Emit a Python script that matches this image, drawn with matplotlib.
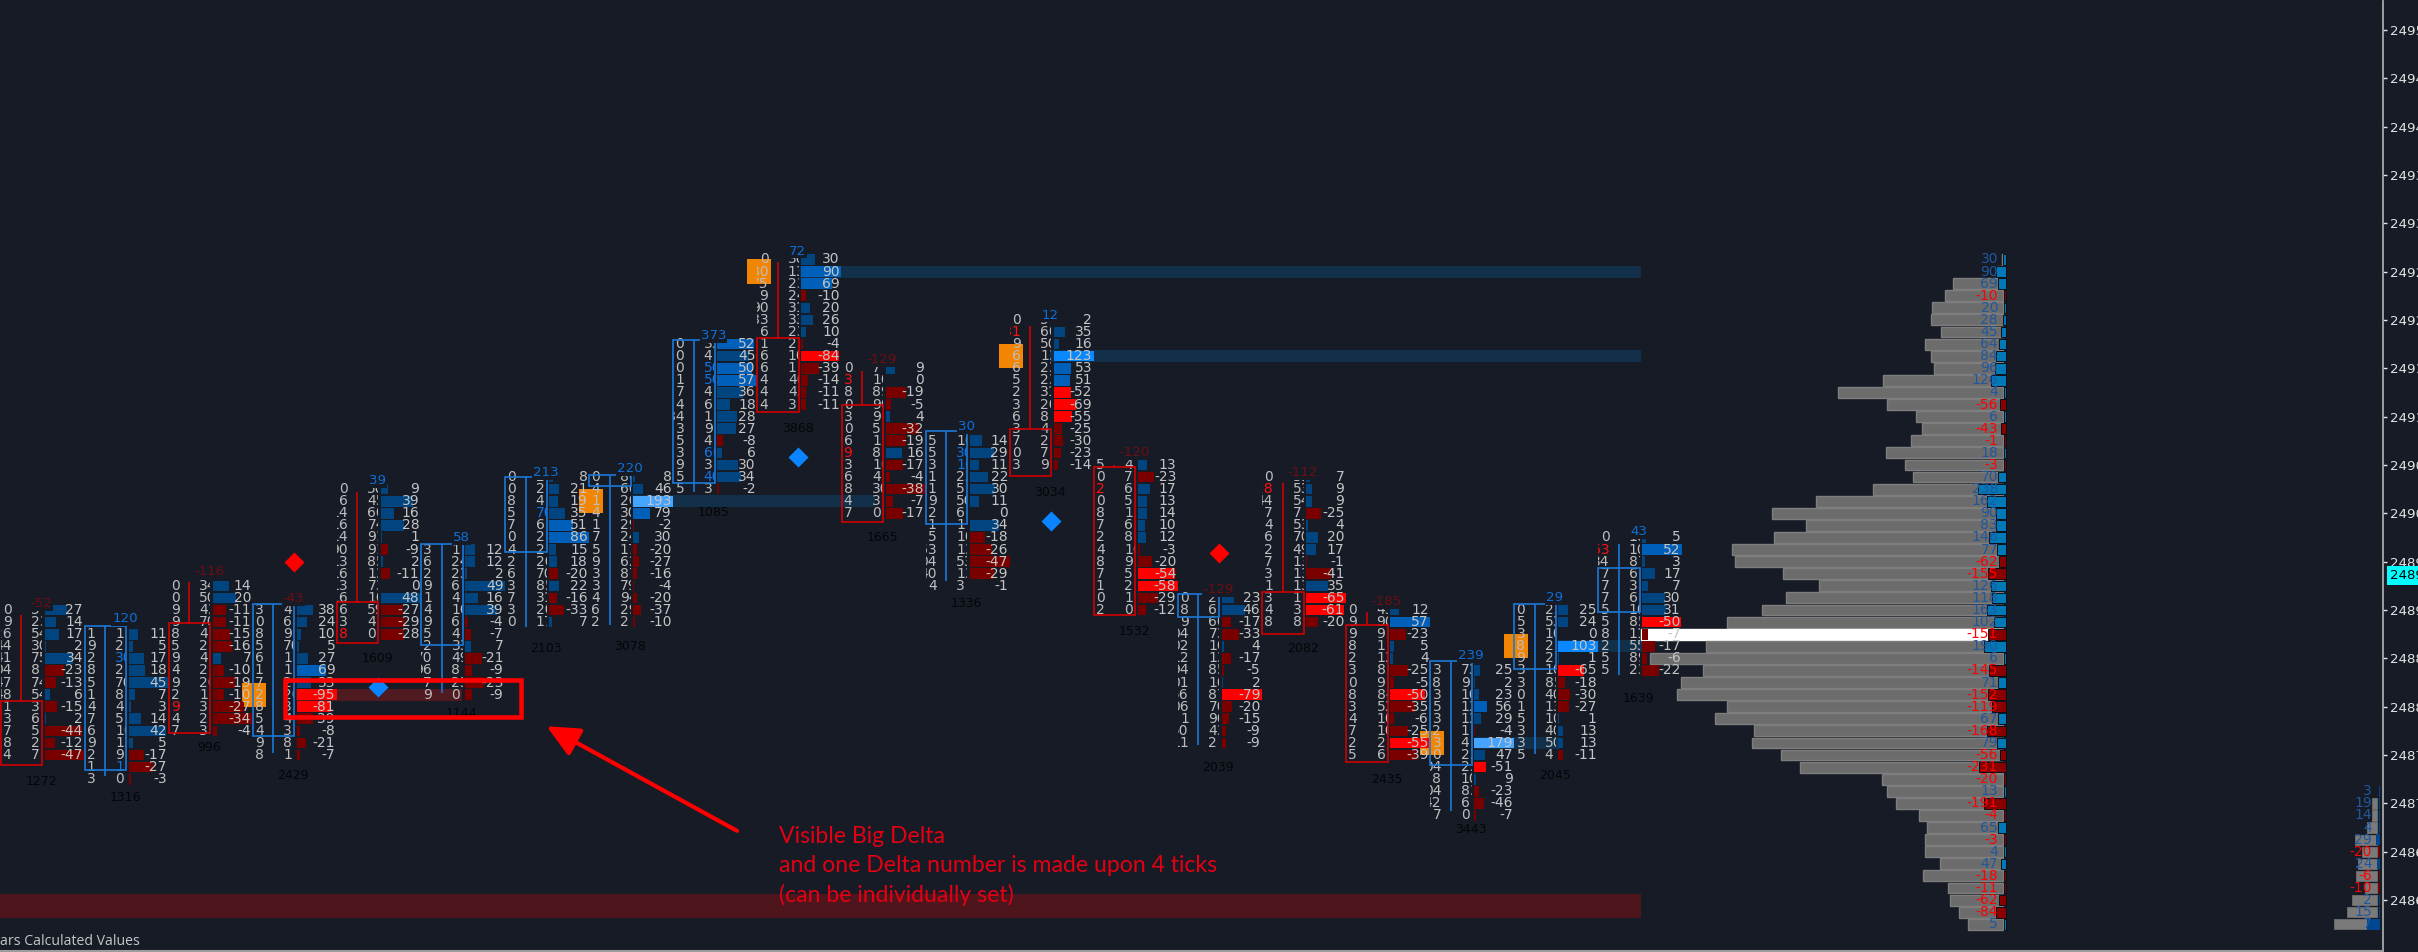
import matplotlib
matplotlib.use("Agg")
import matplotlib.pyplot as plt
from matplotlib.patches import Rectangle
from matplotlib.transforms import Bbox, TransformedBbox

BG = '#161b26'
# ---------- data ----------
first_rows = [29, 31, 27, 29, 19, 24, 18, 18, 7, 0, 9, 15, 5, 17, 28, 18, 29, 34, 29, 23]
top_labels = [-52, 120, -116, -43, 39, 58, 213, 220, 373, 72, -129, 30, 12, -120, -129, -112, -185, 239, 29, 43]
volumes = [1272, 1316, 996, 2429, 1609, 1144, 2103, 3078, 1085, 3868, 1665, 1336, 3034, 1532, 2039, 2082, 2435, 3443, 2045, 1639]
deltas = [
    [27, 14, 17, 2, 34, -23, -13, 6, -15, 2, -44, -12, -47],
    [11, 5, 17, 18, 45, 7, 3, 14, 42, 5, -17, -27, -3],
    [14, 20, -11, -11, -15, -16, 7, -10, -19, -10, -27, -34, -4],
    [38, 24, 10, 5, 27, 69, 33, -95, -81, -39, -8, -21, -7],
    [9, 39, 16, 28, 1, -9, 2, -11, 0, 48, -27, -29, -28],
    [12, 12, 2, 49, 16, 39, -4, -7, 7, -21, -9, -23, -9],
    [8, 21, 19, 35, 51, 86, 15, 18, -20, 22, -16, -33, 7],
    [8, 46, 193, 79, -2, 30, -20, -27, -16, -4, -20, -37, -10],
    [52, 45, 50, 57, 36, 18, 28, 27, -8, 6, 30, 34, -2],
    [30, 90, 69, -10, 20, 26, 10, -4, -84, -39, -14, -11, -11],
    [9, 0, -19, -5, 4, -32, -19, 16, -17, -4, -38, -7, -17],
    [14, 29, 11, 22, 30, 11, 0, 34, -18, -26, -47, -29, -1],
    [2, 35, 16, 123, 53, 51, -52, -69, -55, -25, -30, -23, -14],
    [13, -23, 17, 13, 14, 10, 12, -3, -20, -54, -58, -29, -12],
    [23, 46, -17, -33, 4, -17, -5, 2, -79, -20, -15, -9, -9],
    [7, 9, 9, -25, 4, 20, 17, -1, -41, 35, -65, -61, -20],
    [12, 57, -23, 5, 4, -25, -5, -50, -35, -6, -25, -55, -39],
    [25, 2, 23, 56, 29, -4, 179, 47, -51, 9, -23, -46, -7],
    [25, 24, 0, 103, 1, -65, -18, -30, -27, 1, 13, 13, -11],
    [5, 52, 3, 17, 7, 30, 31, -50, -7, -17, -6, -22],
]
# '*' marks an imbalance cell (coloured text)
left_cells = [
    "0 9 26 44 41 04 47 48 1 3 7 8 4".split(),
    "1 9 2 8 5 1 4 7 6 9 2 1 3".split(),
    "0 0 9 9 8 5 9 4 9 2 9* 4 7".split(),
    "3 0 8 5 6 1 7 2 8 5 4 9 8".split(),
    "0 6 14 16 14 90 13 16 13 16 6 3 8*".split(),
    "3 6 2 9 1 4 9 5 2 70 96 7 9".split(),
    "0 0 8 5 7 0 4 2 6 3 7 3 0".split(),
    "0 4 1 4 1 7 5 9 3 3 4 6 2".split(),
    "0 0 0 1 7 4 84 3 5 3 9 5 5".split(),
    "0 80 75 9 90 83 6 1 6 6 4 4 4".split(),
    "0 3* 8 0 3 0 6 9* 3 6 8 4 7".split(),
    "5 5 3 1 1 9 2 1 5 63 04 40 4".split(),
    "0 81* 9 6 6 5 2 3 6 3 7 0 3".split(),
    "5 0 2* 0 8 7 2 4 8 7 1 0 2".split(),
    "0 8 9 04 02 12 94 01 56 06 1 50 11".split(),
    "0 28* 44 7 4 6 2 7 3 1 3 4 8".split(),
    "0 9 9 8 2 3 0 8 3 4 7 2 5".split(),
    "3 8 3 5 3 2 3 0 04 8 04 42 7".split(),
    "0 5 3 8 9 3 3 0 1 5 3 3 5".split(),
    "0 63* 34 7 7 7 5 5 8 2 5 5".split(),
]
right_cells = [
    "5 23 54 30 75 8 74 54 3 6 5 2 7".split(),
    "1 2 30* 2 70 8 4 5 10 13 9 1* 0".split(),
    "34 50 43 70 4 2 4 2 20 1 3 2 3".split(),
    "4 6 9 70 1 1 2 20 3 4 3 8 1".split(),
    "50 45 60 74 91 91 85 13 73 10 59 4 0".split(),
    "1 24 23 6 4 10 6 4 33 49 8 23 0".split(),
    "2 2 4 70* 6 2 2 20 70 85 31 20 17".split(),
    "80 60 20 30 29 24 17 62 87 79 94 29 2".split(),
    "33 4 50* 50* 4 6 1 9 4 60* 3 40* 3".split(),
    "30 13 23 24 31 33 23 2 10 1 40 43 3".split(),
    "7 10 89 90 9 5 1 8 10 4 30 3 0".split(),
    "10 30* 10* 23 5 50 6 1 10 13 53 13 3".split(),
    "5 60 50 13 23 23 31 20 8 4 2 7 9".split(),
    "4 7 6 5 1 6 8 10 9 5 2 1 0".split(),
    "2 6 60 73 10 13 85 10 87 70 90 43 2".split(),
    "31 53 54 7 53 70 49 13 13 13 1 3 8".split(),
    "43 90 9 1 13 8 9 84 53 10 10 2 6".split(),
    "73 9 10 13 13 1 4 23 23 10 83 6 0".split(),
    "23 53 10 2 2 10 85 40 13 10 40 50 4".split(),
    "10 10 87 6 3 6 10 85 11 55 89 23".split(),
]
box_tops = [36.5, 30.3, 30.05, 28.5, 28.3, 23.5, 18.0, 17.8, 6.7, 6.5, 12.0, 14.2, 14.0, 17.2, 27.7, 27.5, 30.2, 33.2, 28.5, 25.5]
box_bots = [41.8, 42.2, 39.2, 39.4, 31.7, 31.9, 24.2, 18.7, 18.5, 12.65, 21.7, 21.9, 17.9, 29.4, 29.6, 31.0, 41.6, 41.8, 33.9, 29.2]
box_up = [0, 1, 0, 1, 0, 1, 1, 1, 1, 0, 0, 1, 0, 0, 1, 0, 0, 1, 1, 1]
wick_tops = [29.4, 30.3, 26.7, 28.5, 19.2, 23.5, 18.0, 17.8, 6.7, 0.25, 9.25, 14.2, 5.5, 17.0, 27.7, 18.5, 29.2, 33.2, 28.5, 23.5]
wick_bots = [36.5, 42.7, 30.05, 40.85, 28.3, 35.9, 30.4, 30.2, 19.2, 6.5, 12.0, 26.6, 14.0, 17.2, 40.2, 27.5, 30.2, 45.6, 40.9, 34.4]
label_rows = [28.5, 29.7, 25.8, 28.06, 18.3, 23.0, 17.6, 17.3, 6.3, -0.7, 8.3, 13.8, 4.6, 16.0, 27.3, 17.6, 28.3, 32.8, 28.0, 22.5]
vol_rows = [43.2, 44.5, 40.4, 42.67, 33.0, 37.6, 32.2, 32.0, 20.9, 14.0, 23.0, 28.5, 19.3, 30.8, 42.0, 32.2, 43.0, 47.2, 42.7, 36.3]

orange_candle = [3, 7, 9, 12, 17, 18]
orange_rows = [36, 20, 1, 8, 40, 32]
diamond_candle = [3, 4, 9, 12, 14]
diamond_rows = [25.0, 35.4, 16.3, 21.6, 24.3]
diamond_blue = [0, 1, 1, 1, 0]
# stripes: row, x from, x to (image pixels), height in rows, colour
band_rows = [1, 8, 20, 32, 40, 36, 53.5]
band_from = [800, 1050, 632, 1557, 1475, 296, 0]
band_to = [1641, 1641, 875, 1646, 1560, 462, 1641]
band_h = [1, 1, 1, 1, 1, 1, 2]
band_col = ['#12304a', '#12304a', '#12304a', '#12304a', '#12304a', '#4f1a20', '#4f151c']

profile_delta = [30, 90, 69, -10, 20, 28, 45, 64, 84, 96, 126, 4, -56, 6, -43, -1, 18, -3, 70, 238, 162, 90, 83, 146, 77, -62,
                 -155, 126, 118, 163, 102, -151, 190, 6, -145, 71, -152, -119, 67, -168, 79, -56, -231, -20, 13, -191, -4, 65,
                 -3, 4, 47, -18, -11, -62, -84, 5]
profile_vol = [1, 7, 50, 58, 71, 72, 62, 78, 72, 69, 120, 165, 116, 87, 81, 92, 117, 98, 90, 130, 187, 231, 197, 229, 271, 268,
               220, 184, 217, 241, 276, 362, 297, 353, 300, 322, 326, 276, 288, 249, 251, 222, 203, 121, 116, 107, 84, 76,
               78, 78, 63, 80, 55, 53, 44, 35]
poc_index = 31
small_delta = [3, 19, 14, 4, 29, -20, 24, -6, -10, 2, 15, 7]
small_vol = [0, 5, 5, 10, 22, 15, 19, 21, 12, 25, 30, 43]
small_bar = [1, 1, 1, 1, 4, 2, 3, 1.5, 2, 1, 1, 13]
tick_rows = [-19 + 4 * k for k in range(19)]
tick_labels = ['2495.0', '2494.5', '2494.0', '2493.5', '2493.0', '2492.5', '2492.0', '2491.5', '2491.0', '2490.5', '2490.0',
               '2489.5', '2489.0', '2488.5', '2488.0', '2487.5', '2487.0', '2486.5', '2486.0']

# ---------- helpers ----------
PITCH = 84.1
W, H = 2418, 952
fig = plt.figure(figsize=(W / 100, H / 100), dpi=100, facecolor=BG)
ax = fig.add_axes([0, 1 / H, 2383 / W, 950 / H], facecolor=BG)
ax.set_xlim(0, 2383)
R0, RP = 258.75, 12.1
ax.set_ylim((951 - R0) / RP, (0 - R0) / RP)
for s in ('top', 'left'):
    ax.spines[s].set_visible(False)
ax.spines['right'].set_color('#a8a8a8')
ax.spines['right'].set_linewidth(1.3)
ax.spines['bottom'].set_color('#9c9c9c')
ax.spines['bottom'].set_linewidth(1.5)
ax.yaxis.tick_right()
ax.set_yticks(tick_rows, tick_labels)
ax.set_xticks([82 + 84 * k for k in range(28)], [''] * 28)
ax.tick_params(axis='y', colors='#e4e4e4', labelsize=9.6, length=3, width=1, pad=2)
ax.tick_params(axis='x', colors='#e0e0e0', length=1, width=1)

TXT = '#bdbdbd'
FS = 10


def delta_col(d):
    if d < 0:
        return '#ff0000' if d <= -50 else '#7a0000'
    if d >= 150:
        return '#45a4ff'
    if d >= 100:
        return '#0a88ff'
    if d >= 50:
        return '#005fb8'
    return '#00457f'


# stripes
for r, a, b, h, c in zip(band_rows, band_from, band_to, band_h, band_col):
    ax.barh(r, b - a, left=a, height=h, color=c, lw=0, zorder=1)

# volume profile
for k, (d, v) in enumerate(zip(profile_delta, profile_vol)):
    r = k
    poc = k == poc_index
    ax.barh(r, v, left=2003 - v, height=0.9, color='#ffffff' if poc else '#6c6c6c',
            edgecolor='#ffffff' if poc else '#7e7e7e', lw=1, zorder=2)
    bw = max(2, abs(d) * 0.116)
    ax.barh(r, bw, left=2006 - bw, height=0.88, color='#0079b6' if d > 0 else '#8a0000',
            edgecolor='#0b1018', lw=0.7, zorder=3)
    ax.text(1998, r, str(d), ha='right', va='center', fontsize=FS,
            color='#21579c' if d > 0 else '#ff0000', zorder=4)
for k, (d, v, b) in enumerate(zip(small_delta, small_vol, small_bar)):
    r = 44 + k
    if v:
        ax.barh(r, v, left=2377 - v, height=0.85, color='#7a7a7a', edgecolor='#6a6a6a', lw=0.7, zorder=2)
    ax.barh(r, b, left=2380 - b, height=0.88, color='#00478f' if d > 0 else '#7a0000', lw=0, zorder=3)
    ax.text(2372, r, str(d), ha='right', va='center', fontsize=FS,
            color='#21579c' if d > 0 else '#ff0000', zorder=4)

# orange squares
for c, r in zip(orange_candle, orange_rows):
    x = PITCH * c + 2
    ax.barh(r, 24, left=x - 12, height=2, color='#ff8c00', alpha=0.95, lw=0, zorder=5)

# footprint candles
yb = ax.get_ylim()
for i in range(20):
    x0 = PITCH * i
    rows = [first_rows[i] + k for k in range(len(deltas[i]))]
    mx = max(abs(d) for d in deltas[i])
    # delta bars
    ax.barh(rows, [40 * abs(d) / mx for d in deltas[i]], left=x0 + 44.5, height=0.88,
            color=[delta_col(d) for d in deltas[i]], lw=0, zorder=6)
    # cells (clipped to their narrow columns, as in the source)
    lbox = TransformedBbox(Bbox([[x0 + 0.5, yb[1]], [x0 + 14, yb[0]]]), ax.transData)
    rbox = TransformedBbox(Bbox([[x0 + 29, yb[1]], [x0 + 42, yb[0]]]), ax.transData)
    for r, s in zip(rows, left_cells[i]):
        hi = s.endswith('*')
        t = ax.text(x0 + 11.5, r, s.rstrip('*'), ha='right', va='center', fontsize=FS,
                    color='#ff1010' if hi else TXT, zorder=7)
        t.set_clip_box(lbox)
        t.set_clip_on(True)
    for r, s in zip(rows, right_cells[i]):
        hi = s.endswith('*')
        t = ax.text(x0 + 31, r, s.rstrip('*'), ha='left', va='center', fontsize=FS,
                    color='#0f74e6' if hi else TXT, zorder=7)
        t.set_clip_box(rbox)
        t.set_clip_on(True)
    # delta numbers
    for r, d in zip(rows, deltas[i]):
        ax.text(x0 + 83, r, str(d), ha='right', va='center', fontsize=FS, color='#c4c4c4', zorder=8)
    # box and wick
    col = '#1a78d8' if box_up[i] else '#d20000'
    ax.add_patch(Rectangle((x0 + 0.5, box_tops[i]), 41.5, box_bots[i] - box_tops[i], fill=False,
                           edgecolor=col, lw=1.2, zorder=9))
    ax.plot([x0 + 21, x0 + 21], [wick_tops[i], wick_bots[i]], color=col, lw=1.2, zorder=9,
            solid_capstyle='butt')
    # top label and volume
    tl = top_labels[i]
    ax.text(x0 + 41, label_rows[i], str(tl), ha='center', va='center', fontsize=9.6,
            color='#0e6fd6' if tl > 0 else '#6e0d12', zorder=10,
            bbox=dict(facecolor=BG, edgecolor='none', pad=0.6))
    ax.text(x0 + 41, vol_rows[i], str(volumes[i]), ha='center', va='center', fontsize=9,
            color='#050507', zorder=10)

# diamonds
for c, r, b in zip(diamond_candle, diamond_rows, diamond_blue):
    ax.scatter([PITCH * c + 41.5], [r], marker='D', s=104, lw=0,
               color='#0a84ff' if b else '#ff0000', zorder=10)

# annotations
ax.add_patch(Rectangle((284.5, (679.5 - R0) / RP), 236, (717 - 679.5) / RP, fill=False, edgecolor='#ff0000', lw=3.3, zorder=12))
ax.annotate('', xy=(546.6, (726 - R0) / RP), xytext=(737, (830.7 - R0) / RP),
            arrowprops=dict(arrowstyle='-|>,head_length=0.9,head_width=0.42', color='#ff0000', lw=3,
                            mutation_scale=22, shrinkA=0, shrinkB=0), zorder=12)
for txt, y in zip(['Visible Big Delta', 'and one Delta number is made upon 4 ticks', '(can be individually set)'],
                  [836.7, 865.7, 895]):
    ax.text(778.6, (y - R0) / RP, txt, ha='left', va='center', fontsize=16.6, family='Lato', color='#e40012', zorder=12)
ax.text(0, (941 - R0) / RP, 'ars Calculated Values', ha='left', va='center', fontsize=10.2, family='Open Sans',
        color='#c6c6c6', zorder=12)

# last price tag
ax.text(2390, (575 - R0) / RP, '2489.25', ha='left', va='center', fontsize=9.6, color='#000000', clip_on=False, zorder=13,
        bbox=dict(facecolor='#00ffff', edgecolor='none', boxstyle='square,pad=0.25'))

fig.savefig('out.png', dpi=100, facecolor=BG)
